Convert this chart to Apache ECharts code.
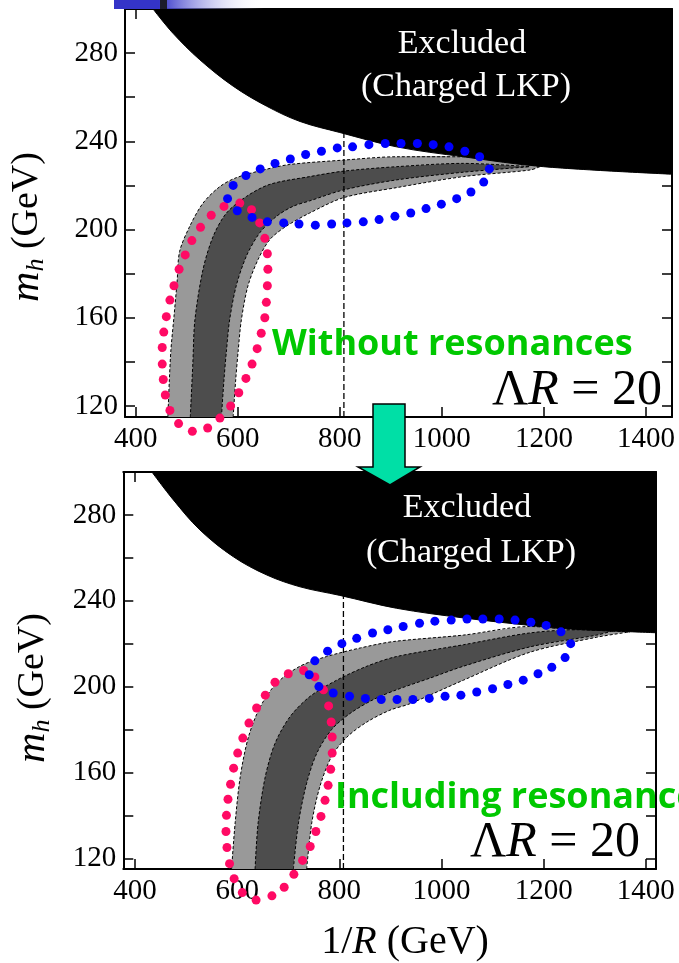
<!DOCTYPE html>
<html><head><meta charset="utf-8">
<script src="https://cdn.jsdelivr.net/npm/echarts@6/dist/echarts.min.js"></script>
<style>html,body{margin:0;padding:0;background:#fff}#c{width:679px;height:963px}</style>
</head><body><div id="c"></div>
<script>
// ---------- axis ticks / labels ----------
const xTickValues = [400, 600, 800, 1000, 1200, 1400];
const yTickValues = [120, 140, 160, 180, 200, 220, 240, 260, 280];
const yLabelValues = [120, 160, 200, 240, 280];
const yRange = [115, 300];
const xRangeTop = [379, 1451];
const xRangeBottom = [377, 1420];
const cutX = 808; // dashed vertical line (1/R)

// ---------- TOP PANEL (without resonances) ----------
const topBlackX = [434, 473, 525.5, 591, 656, 722, 800, 911, 1042, 1199, 1460];
const topBlackM = [300, 289, 277, 265, 256, 249, 244, 237.5, 233, 228.5, 225];

const topLightUpperX = [463, 466, 469, 475, 481, 486, 506, 532, 565, 597, 650, 702, 808, 911, 1042, 1192];
const topLightUpperM = [115, 132, 145.5, 160.5, 176, 190, 201.5, 212, 219.5, 223.5, 227, 229.5, 231.5, 233, 233, 228.5];
const topLightLowerX = [591, 596, 601, 607, 620, 640, 663, 695, 741, 808, 911, 1042, 1173, 1192];
const topLightLowerM = [115, 132, 145.5, 159, 174.5, 186.5, 195.5, 201.5, 207.5, 214.5, 219, 224, 227, 228.5];
const topDarkUpperX = [507, 512, 516, 532, 552, 578, 617, 663, 741, 808, 911, 1042, 1173];
const topDarkUpperM = [115, 139.5, 159, 182, 197, 207.5, 215, 220.5, 224, 226.5, 228.5, 230, 228.5];
const topDarkLowerX = [568, 573, 578, 584, 597, 617, 643, 676, 708, 741, 808, 911, 1042, 1173];
const topDarkLowerM = [115, 132, 145.5, 159, 174.5, 188, 198.5, 206, 210.5, 213, 218, 222.5, 226, 228.5];

const topPinkX = [573, 604, 627, 643, 653, 658, 659, 658, 656, 653, 646, 638, 628, 616, 602, 586, 565, 541, 511, 484, 467, 458, 454, 452, 452, 455, 460, 467, 475, 485, 497, 510, 527, 548];
const topPinkM = [210.5, 212, 209, 203, 196, 189, 182, 174.5, 167, 160, 153, 146, 139, 132.5, 126, 120, 114.5, 110, 108.5, 112, 118, 125, 132, 139, 146.5, 153.5, 160.5, 168, 174.5, 182, 188.5, 195, 201, 206.5];
const topBlueX = [580, 599, 628, 658, 690, 720, 752, 784, 814, 846, 877, 908, 939, 969, 999, 1029, 1057, 1082, 1093, 1074, 1045, 1014, 983, 952, 920, 889, 857, 825, 795, 764, 733, 703, 673, 644, 616, 591];
const topBlueM = [214, 208.5, 205.5, 203.5, 203, 202.5, 202, 202.5, 203, 203.5, 204.5, 206, 207.5, 209.5, 211.5, 214, 217, 221.5, 227.5, 233, 235.5, 237.5, 238.5, 239, 239, 239, 238.5, 237.5, 237, 235.5, 234, 232, 230, 227.5, 224.5, 220];

// ---------- BOTTOM PANEL (including resonances) ----------
const botBlackX = [433, 475, 527, 592.5, 658, 723, 801, 912, 1043, 1173, 1239, 1430];
const botBlackM = [300, 287, 273, 260.5, 252, 246.5, 242.5, 236.5, 232, 228.5, 227, 225];

const botLightUpperX = [589, 596, 606, 622, 645, 677, 723, 775, 841, 906, 1043, 1173, 1239, 1369];
const botLightUpperM = [115, 136.5, 158, 176.5, 190.5, 201.5, 209.5, 214, 218, 221, 224, 228, 227, 225.5];
const botLightLowerX = [736, 746, 762, 785, 815, 854, 899, 938, 1043, 1173, 1304, 1369];
const botLightLowerM = [115, 136.5, 153.5, 167.5, 176.5, 183.5, 189, 192, 203, 216, 223, 225.5];
const botDarkUpperX = [635, 641, 655, 674, 703.5, 743, 795, 854, 912, 1043, 1173, 1271, 1336];
const botDarkUpperM = [115, 136.5, 158, 173.5, 186, 195.5, 203, 209.5, 214, 219.5, 225, 226.5, 226];
const botDarkLowerX = [710, 720, 736, 756, 785, 821, 867, 912, 978, 1043, 1173, 1304, 1336];
const botDarkLowerM = [115, 136.5, 155, 169, 180, 187.5, 194, 198.5, 204, 209.5, 218.5, 224, 226];

const botPinkX = [730, 752, 769, 779, 784, 786, 786, 783, 778, 772, 764, 754, 743, 728, 711, 692, 668, 637, 610, 594, 585, 580, 578, 579, 582, 587, 593, 601, 611, 623, 638, 655, 674, 700];
const botPinkM = [207.5, 204.5, 198.5, 191, 183.5, 176.5, 169, 161.5, 154, 147, 139.5, 132.5, 125.5, 119, 112.5, 106.5, 102.5, 100.5, 104, 110.5, 117.5, 125, 132.5, 140, 147.5, 154.5, 162, 169, 176, 183, 190, 196, 202, 206];
const botBlueX = [741, 760, 788, 820, 851, 882, 913, 944, 976, 1007, 1038, 1069, 1100, 1130, 1160, 1189, 1216, 1242, 1253, 1234, 1205, 1175, 1144, 1113, 1081, 1050, 1019, 987, 957, 925, 895, 865, 834, 805, 777, 752];
const botBlueM = [205.5, 200, 197, 195.5, 194.5, 194, 194, 194, 194.5, 195.5, 196, 197.5, 199, 201, 203, 206, 209, 213.5, 220, 225.5, 228.5, 230, 231, 231.5, 231.5, 231.5, 231, 230.5, 229.5, 228, 226.5, 225, 222.5, 220, 216.5, 212];

// ---------- styling ----------
const SERIF = "'Liberation Serif','DejaVu Serif',serif";
const SANS = "'Open Sans','Liberation Sans',Arial,sans-serif";
const LIGHT = '#999999', DARK = '#4d4d4d', PINK = '#ff0a64', BLUE = '#0000ff';
const SMOOTH = 0.3;

const zip = (xs, ys) => xs.map((x, i) => [x, ys[i]]);

// band fill: region between an upper edge and a lower edge (each a smooth curve)
function bandSeries(upper, lower, color, g, z) {
  return {
    type: 'custom', xAxisIndex: g * 2, yAxisIndex: g * 2, clip: true, silent: true, z: z,
    data: upper.concat(lower),
    renderItem: function (params, api) {
      if (params.dataIndex !== 0) return null;
      const up = upper.map(p => api.coord(p));
      const lo = lower.map(p => api.coord(p)).reverse();
      return { type: 'group', children: [
        { type: 'polyline', shape: { points: up.concat(lo), smooth: SMOOTH }, style: { fill: color, stroke: null } }
      ] };
    }
  };
}
function edgeSeries(pts, g) {
  return { type: 'line', xAxisIndex: g * 2, yAxisIndex: g * 2, data: pts, showSymbol: false, symbol: 'none',
    smooth: SMOOTH, silent: true, clip: true, z: 3, lineStyle: { color: '#000', width: 1, type: [3, 2] } };
}
function blackSeries(pts, g) {
  return { type: 'line', xAxisIndex: g * 2, yAxisIndex: g * 2, data: pts, showSymbol: false, symbol: 'none',
    smooth: 0.35, silent: true, clip: true, z: 5,
    lineStyle: { color: '#000', width: 1 }, areaStyle: { color: '#000', opacity: 1, origin: 'end' } };
}
function dotSeries(pts, color, g) {
  return { type: 'scatter', xAxisIndex: g * 2, yAxisIndex: g * 2, data: pts, symbolSize: 9, clip: false,
    silent: true, z: 8, itemStyle: { color: color, opacity: 1 } };
}
function vlineSeries(g) {
  return { type: 'line', xAxisIndex: g * 2, yAxisIndex: g * 2, data: [[cutX, yRange[0]], [cutX, yRange[1]]],
    showSymbol: false, symbol: 'none', silent: true, z: 3, lineStyle: { color: '#000', width: 1.3, type: [6, 3] } };
}
function panelSeries(g, d) {
  const lightU = zip(d.lightUX, d.lightUM), lightL = zip(d.lightLX, d.lightLM);
  const darkU = zip(d.darkUX, d.darkUM), darkL = zip(d.darkLX, d.darkLM);
  return [
    bandSeries(lightU, lightL, LIGHT, g, 1),
    bandSeries(darkU, darkL, DARK, g, 2),
    edgeSeries(lightU, g), edgeSeries(lightL, g), edgeSeries(darkU, g), edgeSeries(darkL, g),
    vlineSeries(g),
    blackSeries(zip(d.blackX, d.blackM), g),
    dotSeries(zip(d.pinkX, d.pinkM), PINK, g),
    dotSeries(zip(d.blueX, d.blueM), BLUE, g)
  ];
}

const plain = v => String(v);
function xAxes(g, range) {
  const base = { gridIndex: g, type: 'value', min: range[0], max: range[1], splitLine: { show: false },
    axisLine: { show: true, onZero: false, lineStyle: { color: '#000', width: 2 } },
    axisTick: { show: true, inside: true, length: 10, customValues: xTickValues, lineStyle: { color: '#000', width: 1.5 } } };
  return [
    Object.assign({}, base, { position: 'bottom',
      axisLabel: { show: true, customValues: xTickValues, formatter: plain, margin: 8, color: '#000', fontFamily: SERIF, fontSize: 29 } }),
    Object.assign({}, base, { position: 'top', axisLabel: { show: false } })
  ];
}
function yAxes(g) {
  const base = { gridIndex: g, type: 'value', min: yRange[0], max: yRange[1], splitLine: { show: false },
    axisLine: { show: true, onZero: false, lineStyle: { color: '#000', width: 2 } },
    axisTick: { show: true, inside: true, length: 10, customValues: yTickValues, lineStyle: { color: '#000', width: 1.5 } } };
  return [
    Object.assign({}, base, { position: 'left',
      axisLabel: { show: true, customValues: yLabelValues, formatter: plain, margin: 7, color: '#000', fontFamily: SERIF, fontSize: 29 } }),
    Object.assign({}, base, { position: 'right', axisLabel: { show: false } })
  ];
}

const topData = { blackX: topBlackX, blackM: topBlackM, lightUX: topLightUpperX, lightUM: topLightUpperM,
  lightLX: topLightLowerX, lightLM: topLightLowerM, darkUX: topDarkUpperX, darkUM: topDarkUpperM,
  darkLX: topDarkLowerX, darkLM: topDarkLowerM, pinkX: topPinkX, pinkM: topPinkM, blueX: topBlueX, blueM: topBlueM };
const botData = { blackX: botBlackX, blackM: botBlackM, lightUX: botLightUpperX, lightUM: botLightUpperM,
  lightLX: botLightLowerX, lightLM: botLightLowerM, darkUX: botDarkUpperX, darkUM: botDarkUpperM,
  darkLX: botDarkLowerX, darkLM: botDarkLowerM, pinkX: botPinkX, pinkM: botPinkM, blueX: botBlueX, blueM: botBlueM };

function txt(x, y, text, font, fill, align) {
  return { type: 'text', x: x, y: y, z: 100, silent: true,
    style: { text: text, font: font, fill: fill, align: align, textAlign: align,
      verticalAlign: 'middle', textVerticalAlign: 'middle' } };
}
function richTxt(x, y, text, rich, align, rotation) {
  return { type: 'text', x: x, y: y, z: 100, silent: true, rotation: rotation || 0,
    style: { text: text, rich: rich, fill: '#000', align: align, textAlign: align,
      verticalAlign: 'middle', textVerticalAlign: 'middle' } };
}
const yNameRich = {
  m: { fontSize: 42, fontStyle: 'italic', fontFamily: SERIF, lineHeight: 44, color: '#000' },
  s: { fontSize: 26, fontStyle: 'italic', fontFamily: SERIF, lineHeight: 22, verticalAlign: 'bottom', color: '#000' },
  n: { fontSize: 38, fontStyle: 'normal', fontFamily: SERIF, lineHeight: 44, color: '#000' }
};
const lrRich = {
  n: { fontSize: 50, fontStyle: 'normal', fontFamily: SERIF, color: '#000' },
  i: { fontSize: 50, fontFamily: SERIF, fontStyle: 'italic', color: '#000' }
};
const xNameRich = {
  n: { fontSize: 40, fontStyle: 'normal', fontFamily: SERIF, color: '#000' },
  i: { fontSize: 40, fontFamily: SERIF, fontStyle: 'italic', color: '#000' }
};

const option = {
  animation: false,
  backgroundColor: '#fff',
  grid: [
    { left: 125, top: 9, width: 547, height: 408 },
    { left: 123.3, top: 472, width: 532.7, height: 397 }
  ],
  xAxis: xAxes(0, xRangeTop).concat(xAxes(1, xRangeBottom)),
  yAxis: yAxes(0).concat(yAxes(1)),
  series: panelSeries(0, topData).concat(panelSeries(1, botData)),
  graphic: { elements: [
    { type: 'rect', z: 100, silent: true, shape: { x: 114, y: 0, width: 150, height: 9 },
      style: { fill: { type: 'linear', x: 0, y: 0, x2: 1, y2: 0,
        colorStops: [{ offset: 0, color: '#3434c8' }, { offset: 0.3, color: '#3434c8' }, { offset: 1, color: 'rgba(255,255,255,0)' }] } } },
    { type: 'rect', z: 101, silent: true, shape: { x: 160, y: 0, width: 7, height: 9 }, style: { fill: '#1c1c2c' } },
    { type: 'polygon', z: 110, silent: true,
      shape: { points: [[373, 404], [405, 404], [405, 467], [420, 467], [390, 485], [358, 467], [373, 467]] },
      style: { fill: '#00dfa6', stroke: '#000', lineWidth: 1.5 } },
    txt(462, 44, 'Excluded', '34px ' + SERIF, '#fff', 'center'),
    txt(466, 87, '(Charged LKP)', '34px ' + SERIF, '#fff', 'center'),
    txt(272, 345, 'Without resonances', 'bold 36px ' + SANS, '#00c800', 'left'),
    richTxt(662, 391, '{n|Λ}{i|R}{n| = 20}', lrRich, 'right'),
    richTxt(27, 227, '{m|m}{s|h}{n| (GeV)}', yNameRich, 'center', Math.PI / 2),
    txt(467, 508, 'Excluded', '34px ' + SERIF, '#fff', 'center'),
    txt(471, 553, '(Charged LKP)', '34px ' + SERIF, '#fff', 'center'),
    txt(335, 798, 'Including resonances', 'bold 36px ' + SANS, '#00c800', 'left'),
    richTxt(640, 843, '{n|Λ}{i|R}{n| = 20}', lrRich, 'right'),
    richTxt(33, 688, '{m|m}{s|h}{n| (GeV)}', yNameRich, 'center', Math.PI / 2),
    richTxt(405, 942, '{n|1/}{i|R}{n| (GeV)}', xNameRich, 'center')
  ] }
};
const chart = echarts.init(document.getElementById('c'), null, { renderer: 'canvas' });
chart.setOption(option);
</script></body></html>
